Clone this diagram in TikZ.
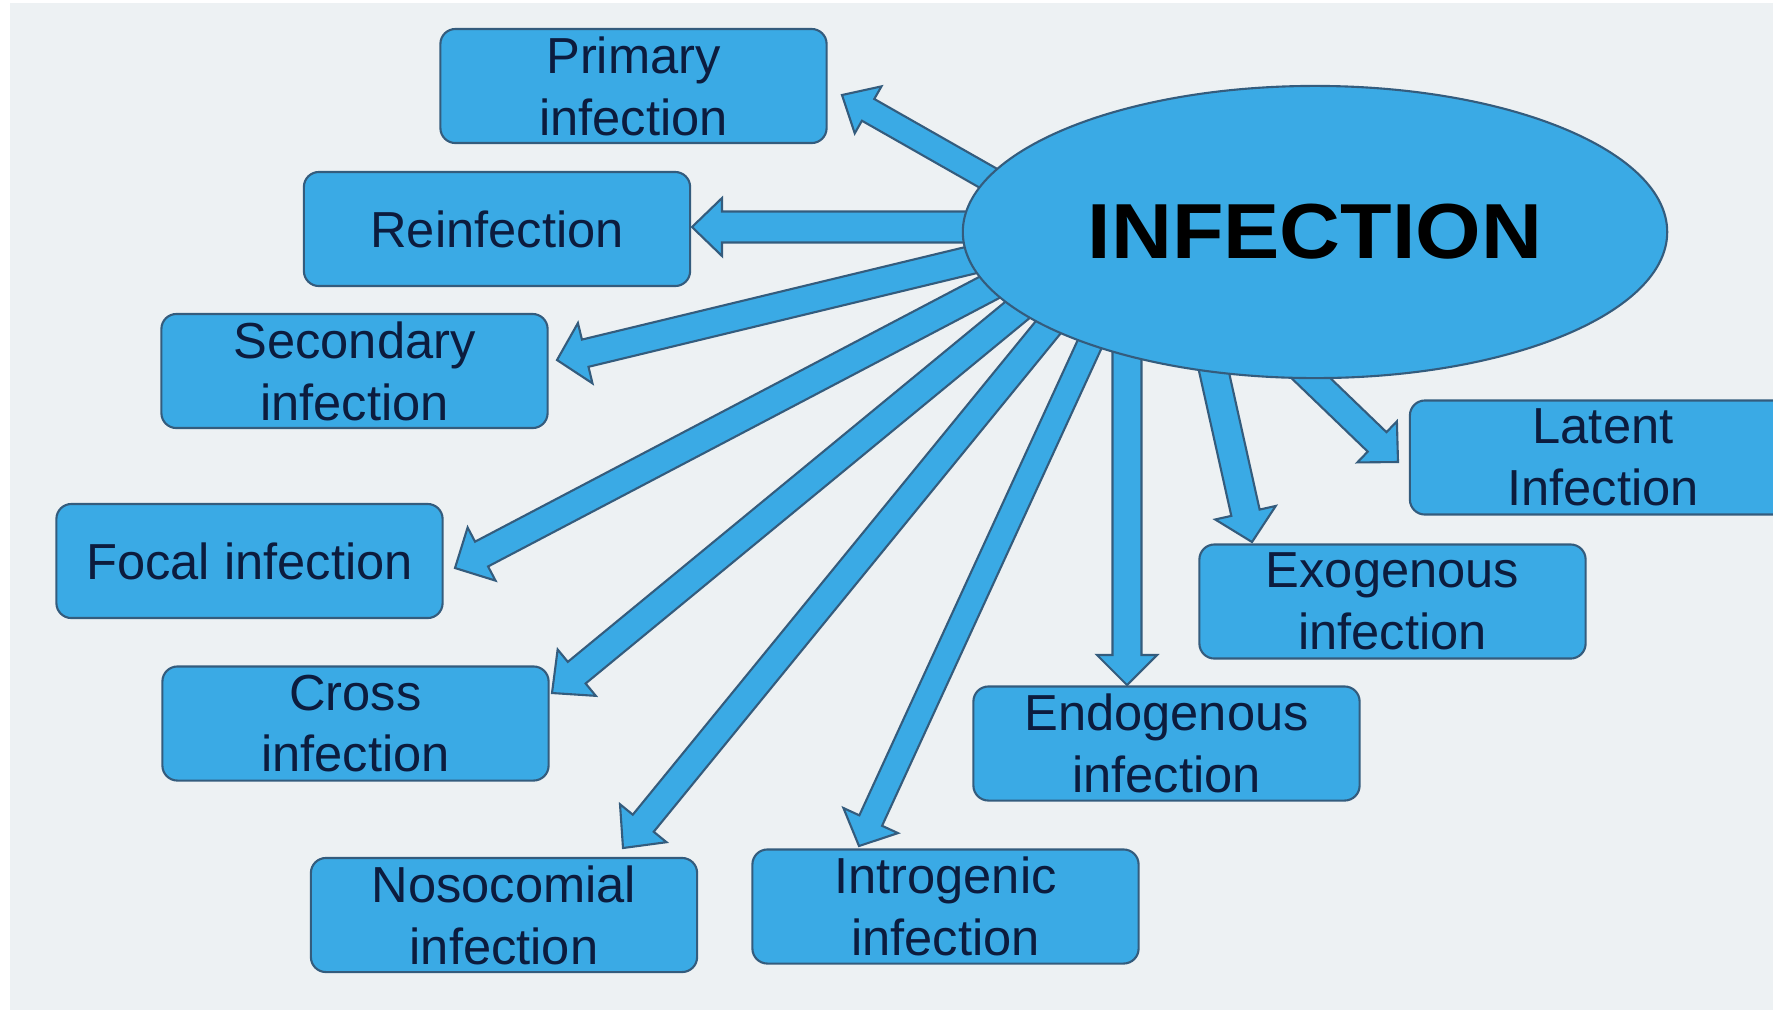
\documentclass[tikz,border=0pt]{standalone}
\usepackage{fontspec}
\usepackage{graphicx}
\setmainfont{Liberation Sans}
\usetikzlibrary{calc,shapes.geometric}
\definecolor{bg}{RGB}{237,241,243}
\definecolor{fillblue}{RGB}{58,170,229}
\definecolor{edgecol}{RGB}{52,92,125}
\definecolor{txt}{RGB}{12,28,62}
% #1 tail, #2 tip, #3 half shaft, #4 half head, #5 head length
\newcommand{\blkarrow}[5]{%
  \coordinate (hb) at ($(#2)!#5!(#1)$);
  \draw[arrshape] ($(#1)!#3!90:(#2)$) -- ($(hb)!#3!90:(#2)$) -- ($(hb)!#4!90:(#2)$) -- (#2)
     -- ($(hb)!#4!-90:(#2)$) -- ($(hb)!#3!-90:(#2)$) -- ($(#1)!#3!-90:(#2)$) -- cycle;
}
\begin{document}
\begin{tikzpicture}[x=0.01cm,y=-0.01cm,
  box/.style={draw=edgecol, fill=fillblue, rounded corners=0.15cm,
    minimum width=3.86cm, minimum height=1.14cm, align=center, text=txt,
    font=\fontsize{14.4pt}{17.6pt}\selectfont, line width=0.6pt, inner sep=0pt},
  arrshape/.style={draw=edgecol, fill=fillblue, line width=0.6pt, line join=miter},
  hub/.style={ellipse, draw=edgecol, fill=fillblue, line width=0.6pt,
    minimum width=7.04cm, minimum height=2.92cm, inner sep=0pt,
    font=\fontsize{22.2pt}{27pt}\selectfont\bfseries, text=black}]
\useasboundingbox (0,0) rectangle (1773,1017);
\clip (0,0) rectangle (1773,1017);
\fill[white] (0,0) rectangle (1773,1017);
\fill[bg] (10,3) rectangle (1773,1010);

% arrow tails (inside the ellipse) and tips
\coordinate (s1) at (1016,194);  \coordinate (t1) at (842,95);
\coordinate (s2) at (1000,227);  \coordinate (t2) at (692,227);
\coordinate (s3) at (1021,248);  \coordinate (t3) at (557,360);
\coordinate (s4) at (1032,265);  \coordinate (t4) at (455,568);
\coordinate (s5) at (1055,279);  \coordinate (t5) at (552,693);
\coordinate (s6) at (1077,292);  \coordinate (t6) at (623,848);
\coordinate (s7) at (1109,302);  \coordinate (t7) at (859,846);
\coordinate (s8) at (1127,300);  \coordinate (t8) at (1127,685);
\coordinate (s9) at (1204,327);  \coordinate (t9) at (1252,542);
\coordinate (s10) at (1290,358); \coordinate (t10) at (1398,462);

\blkarrow{s1}{t1}{0.125cm}{0.27cm}{0.30cm}
\blkarrow{s2}{t2}{0.155cm}{0.29cm}{0.30cm}
\blkarrow{s3}{t3}{0.14cm}{0.31cm}{0.29cm}
\blkarrow{s4}{t4}{0.14cm}{0.30cm}{0.30cm}
\blkarrow{s5}{t5}{0.14cm}{0.30cm}{0.32cm}
\blkarrow{s6}{t6}{0.135cm}{0.30cm}{0.32cm}
\blkarrow{s7}{t7}{0.125cm}{0.30cm}{0.28cm}
\blkarrow{s8}{t8}{0.145cm}{0.30cm}{0.30cm}
\blkarrow{s9}{t9}{0.145cm}{0.31cm}{0.30cm}
\blkarrow{s10}{t10}{0.135cm}{0.285cm}{0.29cm}

\node[hub] (inf) at (1315,232) {\scalebox{1.08}[1]{INFECTION}};

\node[box] (prim) at (633.5,86) {Primary\\infection};
\node[box] (rein) at (497,229) {Reinfection};
\node[box] (sec) at (354.5,371) {Secondary\\infection};
\node[box] (foc) at (249.5,561) {Focal infection};
\node[box] (cro) at (355.5,723.5) {Cross\\infection};
\node[box] (noso) at (504,915) {Nosocomial\\infection};
\node[box] (intro) at (945.5,906.5) {Introgenic\\infection};
\node[box] (endo) at (1166.5,743.5) {Endogenous\\infection};
\node[box] (exo) at (1392.5,601.5) {Exogenous\\infection};
\node[box] (lat) at (1603,457.5) {Latent\\Infection};
\end{tikzpicture}
\end{document}
